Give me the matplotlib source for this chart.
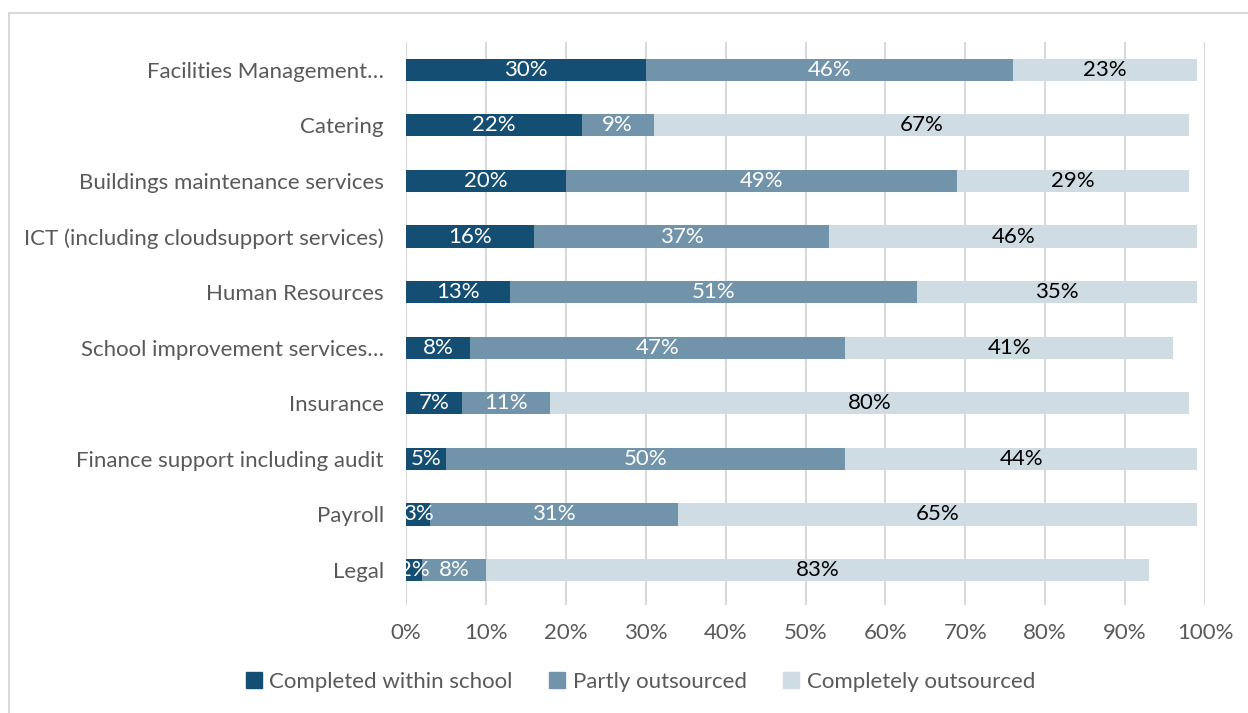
import matplotlib.pyplot as plt
from matplotlib.lines import Line2D
import numpy as np

# Outsourcing of school services, share of schools by approach (%)
services = [
    "Legal",
    "Payroll",
    "Finance support including audit",
    "Insurance",
    "School improvement services\u2026",
    "Human Resources",
    "ICT (including cloudsupport services)",
    "Buildings maintenance services",
    "Catering",
    "Facilities Management\u2026",
]
within_school = [2, 3, 5, 7, 8, 13, 16, 20, 22, 30]
partly_out = [8, 31, 50, 11, 47, 51, 37, 49, 9, 46]
completely_out = [83, 65, 44, 80, 41, 35, 46, 29, 67, 23]

series_names = ["Completed within school", "Partly outsourced", "Completely outsourced"]
colors = ["#144E72", "#7194AB", "#D0DCE4"]
label_colors = ["white", "white", "black"]
ticks = np.arange(0, 101, 10)

plt.rcParams['font.family'] = ['Lato', 'DejaVu Sans']
grey = "#595959"
fs = 16

fig = plt.figure(figsize=(12.48, 7.13), dpi=100)
ax = fig.add_axes([406 / 1248, 1 - 605 / 713, (1205 - 406) / 1248, (605 - 42) / 713])

y = np.arange(len(services))
left = np.zeros(len(services))
for vals, name, col, lcol in zip([within_school, partly_out, completely_out],
                                 series_names, colors, label_colors):
    vals = np.array(vals, dtype=float)
    bars = ax.barh(y, vals, left=left, height=0.4, color=col, label=name, zorder=3)
    for b, v in zip(bars, vals):
        ax.text(b.get_x() + b.get_width() / 2, b.get_y() + b.get_height() / 2,
                f"{v:.0f}%", ha="center", va="center", color=lcol,
                fontsize=fs, zorder=4)
    left += vals

ax.set_xlim(0, 100)
ax.set_ylim(-0.63, 9.5)
ax.set_xticks(ticks)
ax.set_xticklabels([f"{t}%" for t in ticks])
ax.set_yticks(y)
ax.set_yticklabels(services)
ax.tick_params(axis="both", length=0, colors=grey, labelsize=fs)
ax.tick_params(axis="x", pad=13)
ax.tick_params(axis="y", pad=16)
ax.xaxis.grid(True, color="#D9D9D9", linewidth=1.5, zorder=0)
ax.set_axisbelow(True)
for s in ax.spines.values():
    s.set_visible(False)

handles = [Line2D([0], [0], marker="s", linestyle="none", markersize=11,
                  markerfacecolor=c, markeredgecolor=c) for c in colors]
fig.legend(handles, series_names, loc="center", bbox_to_anchor=(0.512, 1 - 682 / 713),
           ncol=3, frameon=False, fontsize=fs, labelcolor=grey,
           handletextpad=0.2, columnspacing=1.5, handlelength=1.0)

# thin frame around the chart area (top and left edges)
fig.add_artist(Line2D([9 / 1248, 1], [1 - 13 / 713, 1 - 13 / 713],
                      transform=fig.transFigure, color="#D9D9D9", linewidth=1.5))
fig.add_artist(Line2D([9 / 1248, 9 / 1248], [0, 1 - 13 / 713],
                      transform=fig.transFigure, color="#D9D9D9", linewidth=1.5))

fig.savefig("out.png", dpi=100, facecolor="white")
